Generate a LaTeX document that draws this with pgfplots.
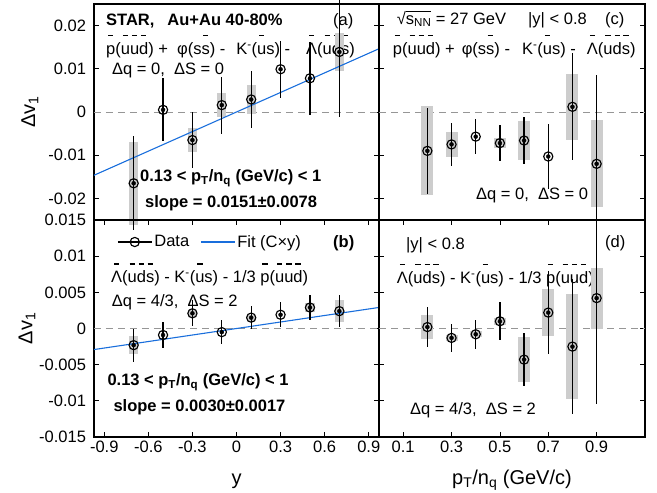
\documentclass[border=0pt]{standalone}
\usepackage{fontspec}
\setmainfont{Liberation Sans}
\usepackage{pgfplots}
\pgfplotsset{compat=1.18}
\usepackage{pgfplotstable}

\definecolor{fitblue}{RGB}{25,110,220}
\definecolor{sysgray}{RGB}{205,205,205}
\definecolor{zerogray}{RGB}{150,150,150}

\newcommand\fs{\fontsize{16.5}{19}\selectfont}
\newcommand\fl{\fontsize{20}{24}\selectfont}
% bar over an (anti)quark letter
\newcommand\ob[1]{\setbox0\hbox{#1}\rlap{\hbox to\wd0{\hss\rule[1.1em]{0.32em}{0.07em}\hss}}\box0}
\newcommand\sNN{√\setbox0\hbox{s\textsubscript{NN}}\rlap{\rule[0.74em]{\wd0}{0.06em}}\box0}
\newcommand\formA[3]{\ob{p}(\ob{u}\ob{u}\ob{d}) +\ \hspace{#1}φ(s\ob{s}) -\ \hspace{#2}K\textsuperscript{-}(\ob{u}s) -\ \hspace{#3}\ob{Λ}(\ob{u}\ob{d}\ob{s})}
\newcommand\formB{\ob{Λ}(\ob{u}\ob{d}\ob{s}) - K\textsuperscript{-}(\ob{u}s) - 1/3 \ob{p}(\ob{u}\ob{u}\ob{d})}

% x = y or pT/nq, y = dv1, stat err, sys err
\pgfplotstableread{
x y stat sys
-0.7 -0.0165 0.0109 0.0096
-0.5 0.0005 0.0073 0
-0.3 -0.0065 0.0065 0.0027
-0.1 0.0016 0.0066 0.0028
0.1 0.0029 0.0066 0.0033
0.3 0.0099 0.0066 0
0.5 0.0078 0.0085 0
0.7 0.0139 0.0150 0.0044
}\tabA
\pgfplotstableread{
x y stat sys
-0.7 -0.0023 0.0023 0.0012
-0.5 -0.0009 0.0018 0
-0.3 0.0021 0.0018 0.0005
-0.1 -0.0005 0.0017 0
0.1 0.0015 0.0016 0.0004
0.3 0.0019 0.0017 0
0.5 0.0029 0.0017 0.0006
0.7 0.0024 0.0022 0.0015
}\tabB
\pgfplotstableread{
x y stat sys
0.2 -0.0090 0.0099 0.0103
0.3 -0.0075 0.0050 0.0029
0.4 -0.0057 0.0040 0
0.5 -0.0072 0.0042 0.0012
0.6 -0.0066 0.0055 0.0046
0.7 -0.0103 0.0075 0
0.8 0.0012 0.0124 0.0076
0.9 -0.0120 0.0205 0.0101
}\tabC
\pgfplotstableread{
x y stat sys
0.2 0.0002 0.0028 0.0016
0.3 -0.0013 0.0019 0.0004
0.4 -0.0008 0.0020 0.0004
0.5 0.0010 0.0026 0.0005
0.6 -0.0043 0.0037 0.0031
0.7 0.0022 0.0057 0.0032
0.8 -0.0025 0.0093 0.0073
0.9 0.0042 0.0147 0.0042
}\tabD

\pgfplotsset{
  panel/.style={scale only axis, clip=false, axis line style={line width=1.1pt},
    scaled ticks=false,
    tick style={black, line width=0.8pt}, major tick length=5pt, tick align=inside,
    ticklabel style={font=\fs}, yticklabel style={xshift=-4.5pt},
    label style={font=\fl}, ylabel style={anchor=center},
    xlabel style={at={(axis description cs:0.5,0)}, anchor=base, yshift=-47pt}},
  zeroline/.style={zerogray, dash pattern=on 7pt off 5pt, line width=0.9pt, forget plot},
  sysbox/.style={only marks, mark=none, forget plot, error bars/.cd, y dir=both, y explicit,
    error mark=none, error bar style={draw=sysgray, line width=#1}},
  pts/.style={only marks, mark=o, mark size=4.6pt, black, mark options={line width=1.15pt},
    forget plot, error bars/.cd, y dir=both, y explicit, error mark=none,
    error bar style={line width=1.2pt, black}},
  fit/.style={fitblue, line width=1.1pt, forget plot},
}

\begin{document}
\begin{tikzpicture}
\useasboundingbox (0,0) rectangle (657pt,-493pt);

\begin{scope}[every node/.style={anchor=base west, inner sep=0pt, font=\fs}]
% panel (a)
\node at (106pt,-25pt) {\bfseries STAR,\hspace{13pt}Au+Au 40-80\%};
\node at (333pt,-25pt) {(a)};
\node at (106pt,-54.3pt) {\formA{4.4pt}{6.4pt}{11.4pt}};
\node at (112pt,-74pt) {Δq = 0,\ \ ΔS = 0};
\node at (140pt,-181.7pt) {\bfseries 0.13 < p\textsubscript{T}/n\textsubscript{q} (GeV/c) < 1};
\node at (145pt,-207pt) {\bfseries slope = 0.0151±0.0078};
% panel (c)
\node at (396.7pt,-24pt) {\sNN{} = 27 GeV};
\node at (528pt,-24pt) {|y| < 0.8};
\node at (605pt,-24.5pt) {(c)};
\node at (392.7pt,-54.3pt) {\formA{2.4pt}{7.4pt}{6.4pt}};
\node at (476pt,-199pt) {Δq = 0,\ \ ΔS = 0};
% panel (b)
\node at (333pt,-247pt) {\bfseries (b)};
\node at (111pt,-282.7pt) {\formB};
\node at (111.7pt,-306.7pt) {Δq = 4/3,\ \ ΔS = 2};
\node at (107.3pt,-385.7pt) {\bfseries 0.13 < p\textsubscript{T}/n\textsubscript{q} (GeV/c) < 1};
\node at (113.3pt,-411.7pt) {\bfseries slope = 0.0030±0.0017};
% panel (d)
\node at (406pt,-249pt) {|y| < 0.8};
\node at (605pt,-247.5pt) {(d)};
\node at (396.7pt,-283.3pt) {\formB};
\node at (410pt,-414pt) {Δq = 4/3,\ \ ΔS = 2};
\end{scope}

% (a)
\begin{axis}[panel, at={(94pt,-220pt)}, anchor=south west, width=285pt, height=216pt,
  xmin=-0.97, xmax=0.97, ymin=-0.025, ymax=0.025, xtick=\empty,
  ytick={-0.02,-0.01,0,0.01,0.02}, yticklabels={-0.02,-0.01,0,0.01,0.02},
  ylabel={Δv\textsubscript{1}}, ylabel style={at={(axis description cs:-0.225,0.5)}}]
\addplot[zeroline] coordinates {(-0.97,0) (0.97,0)};
\addplot[sysbox=9.3pt] table[x=x, y=y, y error=sys] {\tabA};
\addplot[fit] coordinates {(-0.97,-0.014647) (0.97,0.014647)};
\addplot[pts] table[x=x, y=y, y error=stat] {\tabA};
\end{axis}

% (c)
\begin{axis}[panel, at={(379pt,-220pt)}, anchor=south west, width=266pt, height=216pt,
  xmin=0, xmax=1.1, ymin=-0.025, ymax=0.025, xtick=\empty,
  ytick={-0.02,-0.01,0,0.01,0.02}, yticklabels={}]
\addplot[zeroline] coordinates {(0,0) (1.1,0)};
\addplot[sysbox=12pt] table[x=x, y=y, y error=sys] {\tabC};
\addplot[pts] table[x=x, y=y, y error=stat] {\tabC};
\end{axis}

% (b)
\begin{axis}[panel, at={(94pt,-437pt)}, anchor=south west, width=285pt, height=217pt,
  xmin=-0.97, xmax=0.97, ymin=-0.015, ymax=0.015,
  xtick={-0.9,-0.6,-0.3,0,0.3,0.6,0.9}, xticklabels={-0.9,-0.6,-0.3,0,0.3,0.6,0.9},
  ytick={-0.015,-0.01,-0.005,0,0.005,0.01,0.015},
  yticklabels={-0.015,-0.01,-0.005,0,0.005,0.01,0.015},
  xlabel={y}, ylabel={Δv\textsubscript{1}}, ylabel style={at={(axis description cs:-0.235,0.5)}},
  legend columns=2,
  legend image code/.code={\draw[mark repeat=2, mark phase=2, #1] plot coordinates {(0pt,0pt) (17pt,0pt) (34pt,0pt)};},
  legend style={at={(axis description cs:0.0807,0.8986)}, anchor=west, draw=none, fill=none,
    inner sep=0pt, font=\fs, /tikz/every even column/.append style={column sep=9pt}}]
\addlegendimage{black, line width=1.15pt, mark=o, mark size=4.6pt}
\addlegendentry{Data}
\addlegendimage{fitblue, line width=1.1pt}
\addlegendentry{Fit (C×y)}
\addplot[zeroline] coordinates {(-0.97,0) (0.97,0)};
\addplot[sysbox=9.3pt] table[x=x, y=y, y error=sys] {\tabB};
\addplot[fit] coordinates {(-0.97,-0.00291) (0.97,0.00291)};
\addplot[pts] table[x=x, y=y, y error=stat] {\tabB};
\end{axis}

% (d)
\begin{axis}[panel, at={(379pt,-437pt)}, anchor=south west, width=266pt, height=217pt,
  xmin=0, xmax=1.1, ymin=-0.015, ymax=0.015,
  xtick={0.1,0.3,0.5,0.7,0.9}, xticklabels={0.1,0.3,0.5,0.7,0.9},
  ytick={-0.015,-0.01,-0.005,0,0.005,0.01,0.015}, yticklabels={},
  xlabel={p\textsubscript{T}/n\textsubscript{q} (GeV/c)}]
\addplot[zeroline] coordinates {(0,0) (1.1,0)};
\addplot[sysbox=12pt] table[x=x, y=y, y error=sys] {\tabD};
\addplot[pts] table[x=x, y=y, y error=stat] {\tabD};
\end{axis}
\end{tikzpicture}
\end{document}
